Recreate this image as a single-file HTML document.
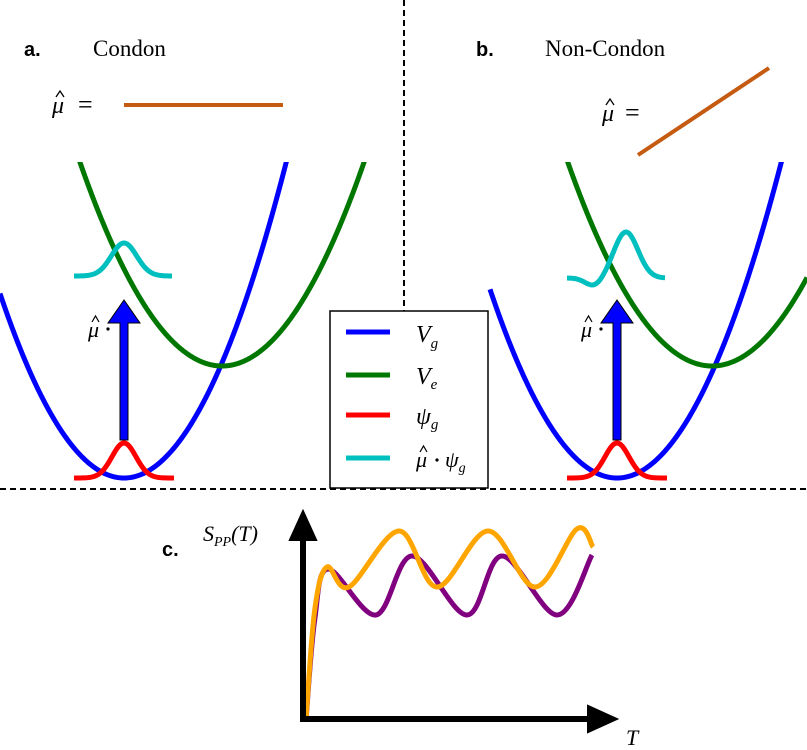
<!DOCTYPE html>
<html><head><meta charset="utf-8"><style>
html,body{margin:0;padding:0;background:#fff;width:807px;height:750px;overflow:hidden;}
svg{display:block;}
.serif{font-family:"Liberation Serif",serif;}
.sans{font-family:"Liberation Sans",sans-serif;font-weight:bold;}
</style></head><body>
<svg id="fig" width="807" height="750" viewBox="0 0 807 750" xmlns="http://www.w3.org/2000/svg">
<defs><clipPath id="clipTop"><rect x="0" y="162" width="807" height="328"/></clipPath></defs>
<g id="panels"></g>
<line x1="404" y1="0" x2="404" y2="312" stroke="#000" stroke-width="2" stroke-dasharray="6,4"/>
<line x1="0" y1="489" x2="807" y2="489" stroke="#000" stroke-width="2" stroke-dasharray="6,4"/>
<text x="24" y="56" class="sans" font-size="20">a.</text>
<text x="93" y="56" class="serif" font-size="23">Condon</text>
<text x="476" y="56" class="sans" font-size="20">b.</text>
<text x="545" y="56" class="serif" font-size="23">Non-Condon</text>
<g>
<text x="52" y="113" class="serif" font-size="24" font-style="italic">μ</text>
<path d="M56,97 L60,91 L64,97" fill="none" stroke="#000" stroke-width="1.3"/>
<text x="78" y="113" class="serif" font-size="26">=</text>
</g>
<line x1="124" y1="105" x2="283" y2="105" stroke="#c55a11" stroke-width="4"/>
<g>
<text x="602" y="121" class="serif" font-size="24" font-style="italic">μ</text>
<path d="M606,105 L610,99 L614,105" fill="none" stroke="#000" stroke-width="1.3"/>
<text x="625" y="121" class="serif" font-size="26">=</text>
</g>
<line x1="638" y1="155" x2="769" y2="68" stroke="#c55a11" stroke-width="4"/>
<g>
<text x="88" y="337" class="serif" font-size="22" font-style="italic">μ</text>
<path d="M92,322 L95.5,316 L99,322" fill="none" stroke="#000" stroke-width="1.2"/>
<circle cx="108" cy="329" r="1.6" fill="#000"/>
</g>
<g>
<text x="581" y="337" class="serif" font-size="22" font-style="italic">μ</text>
<path d="M585,322 L588.5,316 L592,322" fill="none" stroke="#000" stroke-width="1.2"/>
<circle cx="601" cy="329" r="1.6" fill="#000"/>
</g>
<g id="legend">
<rect x="330" y="311" width="158" height="177" fill="#fff" stroke="#000" stroke-width="1.5"/>
<line x1="346" y1="332" x2="390" y2="332" stroke="#0000ff" stroke-width="5"/>
<text x="416" y="342" class="serif" font-size="24" font-style="italic">V<tspan font-size="15" dy="6">g</tspan></text>
<line x1="346" y1="375" x2="390" y2="375" stroke="#007700" stroke-width="5"/>
<text x="416" y="384" class="serif" font-size="24" font-style="italic">V<tspan font-size="15" dy="5">e</tspan></text>
<line x1="346" y1="415" x2="390" y2="415" stroke="#ff0000" stroke-width="5"/>
<text x="416" y="424" class="serif" font-size="24" font-style="italic">ψ<tspan font-size="15" dy="5">g</tspan></text>
<line x1="346" y1="458" x2="390" y2="458" stroke="#00bfbf" stroke-width="5"/>
<g>
<text x="416" y="467" class="serif" font-size="22" font-style="italic">μ</text>
<path d="M420,452 L423.5,446 L427,452" fill="none" stroke="#000" stroke-width="1.2"/>
<circle cx="437" cy="460" r="1.6" fill="#000"/>
<text x="445" y="467" class="serif" font-size="22" font-style="italic">ψ<tspan font-size="14" dy="5">g</tspan></text>
</g>
</g>
<text x="162" y="556" class="sans" font-size="20">c.</text>
<text x="203" y="541" class="serif" font-size="22" font-style="italic">S<tspan font-size="14" dy="5">PP</tspan><tspan dy="-5">(T)</tspan></text>
<text x="626" y="745" class="serif" font-size="22" font-style="italic">T</text>
<g id="chart"></g>
</svg>
<script>
// Panel c signal data (T in 0..10, S in 0..1)
var purpleT = [0, 0.3, 0.76, 2.41, 3.66, 5.55, 6.76, 8.66, 9.86];
var purpleS = [0, 0.5, 0.755, 0.525, 0.82, 0.525, 0.82, 0.525, 0.825];
var orangeT = [0, 0.3, 0.72, 1.48, 3.21, 4.52, 6.28, 7.9, 9.34, 9.9];
var orangeS = [0, 0.55, 0.765, 0.665, 0.945, 0.665, 0.945, 0.665, 0.955, 0.865];

var NS = 'http://www.w3.org/2000/svg';
function xS(t){return 306 + t*29;}
function yS(s){return 720 - s*200;}
function smooth(pts){
  var d = 'M' + pts[0][0] + ',' + pts[0][1];
  for (var i=0;i<pts.length-1;i++){
    var p0=pts[Math.max(i-1,0)], p1=pts[i], p2=pts[i+1], p3=pts[Math.min(i+2,pts.length-1)];
    var c1x=p1[0]+(p2[0]-p0[0])/6, c1y=p1[1]+(p2[1]-p0[1])/6;
    var c2x=p2[0]-(p3[0]-p1[0])/6, c2y=p2[1]-(p3[1]-p1[1])/6;
    d += ' C'+c1x+','+c1y+' '+c2x+','+c2y+' '+p2[0]+','+p2[1];
  }
  return d;
}
function mk(tag, attrs, parent){
  var el=document.createElementNS(NS,tag);
  for (var k in attrs) el.setAttribute(k, attrs[k]);
  parent.appendChild(el);
  return el;
}
function fnPath(f, x0, x1){
  var d='';
  for (var x=x0;x<=x1;x+=1){ d += (x===x0?'M':'L') + x + ',' + f(x).toFixed(2) + ' '; }
  return d;
}
var panels=document.getElementById('panels');
function drawPanel(vx, gv, ga, ev, ea, cyanF, xmin, tag){
  var g = mk('g',{},panels);
  var blue = mk('path',{d:fnPath(function(x){return gv[1]-ga*Math.pow(x-gv[0],2);}, xmin, gv[0]+170),fill:'none',stroke:'#0000ff','stroke-width':5,'clip-path':'url(#clipTop)'},g);
  
  
  var green = mk('path',{d:fnPath(function(x){return ev[1]-ea*Math.pow(x-ev[0],2);}, ev[0]-150, Math.min(ev[0]+150,807)),fill:'none',stroke:'#007700','stroke-width':5,'clip-path':'url(#clipTop)'},g);
  
  
  var red = mk('path',{d:fnPath(function(x){return 478-35*Math.exp(-Math.pow((x-vx)/17,2));}, vx-50, vx+50),fill:'none',stroke:'#ff0000','stroke-width':5},g);
  
  
  var cyan = mk('path',{d:fnPath(cyanF, vx-50, vx+48),fill:'none',stroke:'#00bfbf','stroke-width':5},g);
  
  
  var arr = mk('path',{d:'M'+(vx-4)+',440 L'+(vx-4)+',323 L'+(vx-16)+',323 L'+vx+',300 L'+(vx+16)+',323 L'+(vx+4)+',323 L'+(vx+4)+',440 Z',fill:'#0000ff',stroke:'#000','stroke-width':1},g);
  
  
}
drawPanel(124,[124,478],0.012,[222,366],0.0101,function(x){return 276-33*Math.exp(-Math.pow((x-124)/18,2));},0,'a');
drawPanel(617,[617,478],0.0117,[712,366],0.0098,function(x){return 278-46*Math.exp(-Math.pow((x-626)/17,2))+8*Math.exp(-Math.pow((x-594)/12,2));},490,'b');

var chart=document.getElementById('chart');
function series(T,S,color,name){
  var pts=[]; for(var i=0;i<T.length;i++) pts.push([xS(T[i]),yS(S[i])]);
  var p=mk('path',{d:smooth(pts),fill:'none',stroke:color,'stroke-width':5,'stroke-linejoin':'round'},chart);
  
  
}
series(purpleT,purpleS,'#800080','condon-signal');
series(orangeT,orangeS,'#ffa500','non-condon-signal');
var ya=mk('path',{d:'M303,722 L303,538 L293,538 L303,516 L313,538 L303,538',fill:'#000',stroke:'#000','stroke-width':6},chart);


var xa=mk('path',{d:'M300,719 L590,719 L590,709 L612,719 L590,729 L590,719',fill:'#000',stroke:'#000','stroke-width':6},chart);


</script>
</body></html>
